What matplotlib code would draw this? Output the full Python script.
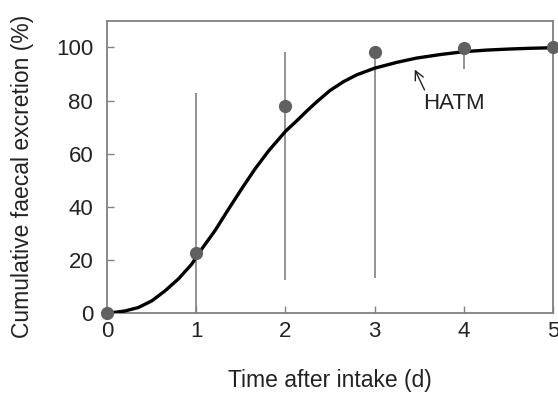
import matplotlib.pyplot as plt

plt.rcParams['font.family'] = ['Liberation Sans', 'DejaVu Sans']

# === Observed data (mean with range bars) ===
days = [0, 1, 2, 3, 4, 5]
excretion = [0, 22.6, 77.9, 98.2, 99.9, 100]
bar_low = [0, 0, 12.5, 13.0, 91.7, 100]
bar_high = [0, 82.9, 98.2, 98.2, 99.9, 100]

# === HATM model curve ===
curve_t = [0, 0.09, 0.20, 0.35, 0.50, 0.65, 0.80, 0.95, 1.06, 1.21, 1.36,
           1.51, 1.66, 1.81, 2.0, 2.14, 2.25, 2.35, 2.50, 2.65, 2.80, 3.0,
           3.25, 3.47, 3.75, 4.0, 4.25, 4.5, 4.75, 5.0]
curve_y = [0, 0.2, 0.7, 2.0, 4.5, 8.3, 12.8, 18.4, 24.0, 31.0, 39.0,
           46.8, 54.3, 61.0, 68.4, 72.8, 76.4, 79.5, 83.8, 87.1, 89.7, 92.2,
           94.4, 96.0, 97.4, 98.4, 99.0, 99.4, 99.7, 99.9]

fig = plt.figure(figsize=(5.58, 3.95), dpi=100)
ax = fig.add_axes([0.192, 0.208, 0.799, 0.739])

grey = '#808080'
txt = '#222222'
lower = [m - l for m, l in zip(excretion, bar_low)]
upper = [h - m for m, h in zip(excretion, bar_high)]
ax.errorbar(days, excretion, yerr=[lower, upper], fmt='none', ecolor=grey,
            elinewidth=1.2, capsize=0, zorder=2, clip_on=False)
ax.plot(curve_t, curve_y, color='black', lw=2.4, zorder=3,
        solid_joinstyle='round')
ax.plot(days, excretion, 'o', color='#606060', ms=8.5, zorder=4, clip_on=False)

ax.annotate('HATM', xy=(3.45, 91.7), xytext=(3.54, 79), fontsize=16,
            va='center', ha='left', color=txt,
            arrowprops=dict(arrowstyle='->', color=txt, lw=1,
                            shrinkA=0, shrinkB=0, relpos=(0.05, 1.0)))

ax.set_xlim(0, 5)
ax.set_ylim(0, 110)
ax.set_xticks(days)
ax.set_yticks([0, 20, 40, 60, 80, 100])
ax.tick_params(direction='in', length=5, width=1, color=grey,
               labelsize=16, labelcolor=txt)
ax.tick_params(axis='x', pad=6)
ax.tick_params(axis='y', pad=10)
for s in ax.spines.values():
    s.set_color(grey)
    s.set_linewidth(1.3)

ax.set_xlabel('Time after intake (d)', fontsize=16.5, labelpad=19, color=txt)
ax.set_ylabel('Cumulative faecal excretion (%)', fontsize=16.5, color=txt)
ax.yaxis.set_label_coords(-0.163, 0.469)

plt.savefig('out.png', dpi=100)
